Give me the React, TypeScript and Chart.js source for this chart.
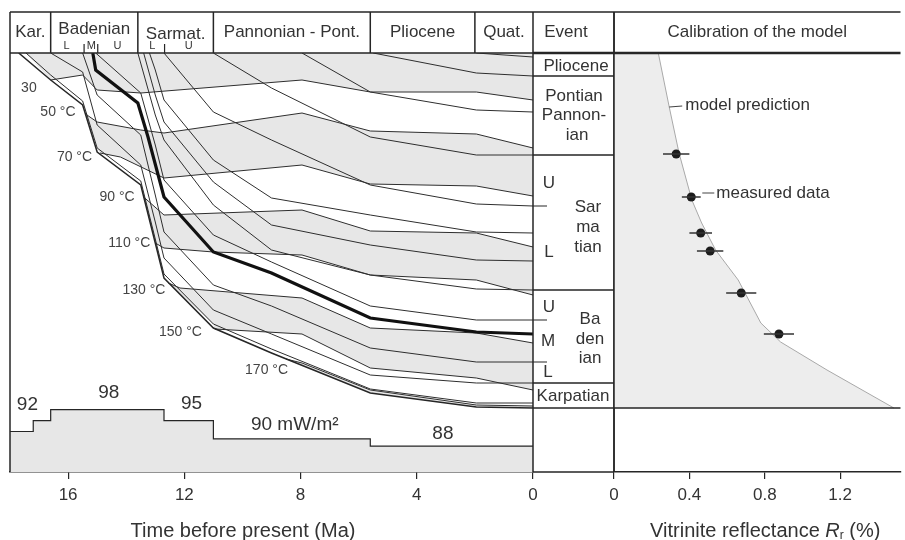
import React, { useEffect, useRef } from 'react';
import { Chart, registerables } from 'chart.js';

Chart.register(...registerables);

type Pt = [number, number]; // [time in Ma (or Rr in %), depth in m]

// ---------------- values ----------------
const TIME_MIN = 0;
const TIME_MAX = 18;
const TIME_STEP = 4;
const DEPTH_MAX = 4190;

// stratigraphic header (Ma)
const STAGE_NAMES = ['Kar.', 'Badenian', 'Sarmat.', 'Pannonian - Pont.', 'Pliocene', 'Quat.'];
const STAGE_BOUNDS = [18, 16.6, 13.6, 11.0, 5.6, 2.0, 0];
const SUBSTAGE_NAMES = ['L', 'M', 'U', 'L', 'U'];
const SUBSTAGE_TIMES = [16.05, 15.2, 14.3, 13.1, 11.85];
const SUBSTAGE_BOUNDS = [15.45, 14.98, 12.68];

// heat flow history (mW/m2)
const HEAT_FLOW_TIMES = [18, 17.2, 16.6, 12.7, 11.0, 5.6, 0];
const HEAT_FLOW_VALUES = [92, 95, 98, 95, 90, 88, 88];
const HEAT_FLOW_RANGE: [number, number] = [80.9, 195.7];
const HEAT_FLOW_LABELS = ['92', '98', '95', '90 mW/m\u00B2', '88'];
const HEAT_FLOW_LABEL_TIMES = [17.4, 14.6, 11.75, 8.2, 3.1];
const HEAT_FLOW_LABEL_VALUES = [92, 98, 95, 90, 88];

// burial history: horizons [time Ma, depth m]
const H_BASAL: Pt[] = [[17.7, 0], [16.6, 270], [15.5, 520], [15.0, 990], [13.5, 1320], [13.0, 1900], [12.7, 2250], [11.0, 2750], [9.0, 3000], [5.6, 3400], [1.95, 3540], [0, 3550]];
const H_BASAL_2: Pt[] = [[17.45, 0], [16.6, 220], [15.5, 480], [15.0, 950], [13.5, 1280], [13.0, 1860], [12.7, 2210], [11.0, 2710], [9.0, 2960], [5.6, 3360], [1.95, 3500], [0, 3500]];
const H_BADENIAN_BASE: Pt[] = [[16.6, 0], [15.5, 190], [15.0, 720], [13.5, 1120], [13.0, 1690], [12.7, 2050], [11.0, 2570], [9.0, 2810], [5.6, 3220], [1.95, 3300], [0, 3300]];
const H_BADENIAN_LM: Pt[] = [[15.5, 0], [15.0, 420], [13.5, 820], [13.0, 1420], [12.7, 1790], [11.0, 2320], [9.0, 2530], [5.6, 2950], [1.95, 3090], [0, 3090]];
const H_WELL: Pt[] = [[15.15, 0], [15.05, 170], [13.6, 500], [13.25, 840], [12.7, 1440], [11.0, 1990], [9.0, 2200], [5.6, 2650], [1.95, 2790], [0, 2810]];
const H_BADENIAN_MU: Pt[] = [[15.05, 0], [13.5, 400], [13.0, 920], [12.7, 1270], [11.0, 1820], [9.0, 2090], [5.6, 2530], [1.95, 2670], [0, 2670]];
const H_SARMATIAN_BASE: Pt[] = [[13.6, 0], [13.0, 620], [12.7, 870], [11.0, 1520], [9.0, 1970], [5.6, 2220], [1.95, 2360], [0, 2370]];
const H_SARMATIAN_2: Pt[] = [[13.4, 0], [13.0, 420], [12.7, 690], [11.0, 1290], [9.0, 1720], [5.6, 1920], [1.95, 2070], [0, 2080]];
const H_SARMATIAN_3: Pt[] = [[13.2, 0], [13.0, 170], [12.7, 470], [11.0, 1070], [9.0, 1450], [5.6, 1620], [1.95, 1790], [0, 1800]];
const H_SARMATIAN_LU: Pt[] = [[12.7, 0], [11.0, 590], [9.0, 870], [5.6, 1320], [1.95, 1510], [0, 1530]];
const H_PANNONIAN_BASE: Pt[] = [[11.0, 0], [9.0, 350], [5.6, 840], [1.95, 1020], [0, 1020]];
const H_PANNONIAN_2: Pt[] = [[7.95, 0], [5.6, 390], [1.95, 570], [0, 590]];
const H_PLIOCENE_BASE: Pt[] = [[5.5, 0], [1.95, 200], [0, 230]];
const H_QUATERNARY_BASE: Pt[] = [[1.95, 0], [0, 40]];

// isotherms [time Ma, depth m]
const ISO_30: Pt[] = [[16.6, 270], [15.5, 220], [15.0, 370], [13.5, 400], [7.95, 270], [5.6, 390], [1.95, 390], [0, 470]];
const ISO_50: Pt[] = [[15.4, 610], [15.0, 690], [13.5, 770], [12.7, 800], [7.95, 600], [5.6, 780], [1.95, 810], [0, 950]];
const ISO_70: Pt[] = [[14.9, 1000], [14.2, 1040], [12.7, 1250], [7.95, 1120], [5.6, 1310], [1.95, 1330], [0, 1430]];
const ISO_90: Pt[] = [[13.4, 1440], [12.7, 1620], [7.95, 1570], [5.6, 1780], [1.95, 1800], [0, 1940]];
const ISO_110: Pt[] = [[13.0, 1900], [12.7, 1950], [11.0, 1990], [7.95, 2020], [5.6, 2220], [1.95, 2270], [0, 2420]];
const ISO_130: Pt[] = [[12.55, 2300], [12.15, 2350], [7.95, 2450], [5.6, 2750], [1.95, 2800], [0, 2900]];
const ISO_150: Pt[] = [[10.95, 2760], [7.95, 2810], [5.6, 3150], [1.95, 3250], [0, 3370]];
const ISO_170: Pt[] = [[8.5, 3060], [7.95, 3100], [5.6, 3370], [1.95, 3520], [0, 3530]];
const ISOTHERM_NAMES = ['30', '50 \u00B0C', '70 \u00B0C', '90 \u00B0C', '110 \u00B0C', '130 \u00B0C', '150 \u00B0C', '170 \u00B0C'];

// event column (present-day depths, m)
const EVENT_BOUNDS = [230, 1020, 2370, 3300, 3550];
const EVENT_TICKS = [1530, 2670, 3090];
const EVENT_LABELS = ['Pliocene', 'Pontian', 'Pannon-', 'ian', 'U', 'Sar', 'ma', 'tian', 'L', 'U', 'Ba', 'den', 'ian', 'M', 'L', 'Karpatian'];
const EVENT_LABEL_DEPTHS = [130, 430, 620, 820, 1300, 1540, 1740, 1940, 1990, 2540, 2660, 2860, 3050, 2880, 3190, 3430];

// calibration: vitrinite reflectance (%)
const RR_MAX = 1.52;
const RR_STEP = 0.4;
const MODEL_RR = [0.235, 0.293, 0.345, 0.413, 0.465, 0.539, 0.659, 0.779, 0.884, 1.13, 1.485];
const MODEL_DEPTH = [0, 540, 1000, 1470, 1700, 1970, 2270, 2700, 2890, 3170, 3550];
const MEASURED_RR = [0.33, 0.41, 0.46, 0.51, 0.675, 0.875];
const MEASURED_DEPTH = [1010, 1440, 1800, 1980, 2400, 2810];
const MEASURED_ERR = [0.07, 0.05, 0.06, 0.07, 0.08, 0.08];

// ---------------- layout / style (not data) ----------------
const FONT = "'Liberation Sans', Arial, Helvetica, sans-serif";
const INK = '#262626';
const LINE = '#2e2e2e';
const TEXT = '#333333';
const BAND = '#e7e7e7';
const HEADER_TOP = 12;
const EVENT_WIDTH = 81;
const STAGE_DY = [0, -3, 1.5, 0, 0, 0];
const EVENT_LABEL_X = [43, 41, 41, 44, 16, 55, 55, 55, 16, 16, 57, 57, 57, 15, 15, 40];
const ISO_LABEL_OFFSETS: Pt[] = [[-14, 8], [-10, -2], [-8, 4], [-9, 0], [-5, 0], [-3, 7], [-13, 3], [2, 11]];
const HF_LABEL_DY = [-27, -17, -17, -14, -12];

Chart.defaults.font.family = FONT;

const HORIZONS = [H_BASAL_2, H_BADENIAN_BASE, H_BADENIAN_LM, H_BADENIAN_MU, H_SARMATIAN_BASE, H_SARMATIAN_2, H_SARMATIAN_3, H_SARMATIAN_LU, H_PANNONIAN_BASE, H_PANNONIAN_2, H_PLIOCENE_BASE, H_QUATERNARY_BASE];
const ISOTHERMS = [ISO_30, ISO_50, ISO_70, ISO_90, ISO_110, ISO_130, ISO_150, ISO_170];

const xy = (pts: Pt[]) => pts.map(([x, y]) => ({ x, y }));
const asc = (a: Pt, b: Pt) => a[0] - b[0];

function bandPolygon(upper: Pt[], lower: Pt[], edge: Pt[]): Pt[] {
  const tU = upper[0][0];
  const tL = lower[0][0];
  const side = edge.filter(([t]) => t > tL && t < tU).sort(asc);
  return [...upper, ...[...lower].reverse(), ...side];
}

function seg(ctx: CanvasRenderingContext2D, x1: number, y1: number, x2: number, y2: number) {
  ctx.moveTo(x1, y1);
  ctx.lineTo(x2, y2);
}

function label(ctx: CanvasRenderingContext2D, s: string, x: number, y: number, size: number, align: CanvasTextAlign = 'center', color = TEXT, style = 'normal') {
  ctx.font = `${style} ${size}px ${FONT}`;
  ctx.fillStyle = color;
  ctx.textAlign = align;
  ctx.textBaseline = 'middle';
  ctx.fillText(s, x, y);
}

const axisCommon = {
  grid: { display: true, drawOnChartArea: false, drawTicks: true, tickLength: 7, color: INK, lineWidth: 1.2 },
  border: { display: true, color: INK, width: 1.5 },
  afterFit: (s: any) => { s.height = 68; },
};

const leftDecor = {
  id: 'leftDecor',
  afterDraw(chart: any) {
    const { ctx, chartArea: a } = chart;
    const sx = chart.scales.x, sy = chart.scales.y, shf = chart.scales.yHF;
    const evL = a.right, evR = a.right + EVENT_WIDTH;
    ctx.save();
    ctx.strokeStyle = INK;
    ctx.lineWidth = 1.5;
    ctx.beginPath();
    seg(ctx, a.left, HEADER_TOP, evR, HEADER_TOP);
    seg(ctx, a.left, HEADER_TOP, a.left, a.bottom);
    seg(ctx, a.left, a.top, evL, a.top);
    seg(ctx, evL, HEADER_TOP, evL, a.bottom);
    seg(ctx, evR, HEADER_TOP, evR, a.bottom);
    seg(ctx, evL, a.bottom, evR, a.bottom);
    for (const t of STAGE_BOUNDS.slice(1, -1)) {
      const X = sx.getPixelForValue(t);
      seg(ctx, X, HEADER_TOP, X, a.top);
    }
    for (const d of EVENT_BOUNDS) {
      const Y = sy.getPixelForValue(d);
      seg(ctx, evL, Y, evR, Y);
    }
    ctx.stroke();
    ctx.lineWidth = 2.5;
    ctx.beginPath();
    seg(ctx, evL, a.top, evR, a.top);
    ctx.stroke();
    ctx.lineWidth = 1.2;
    ctx.beginPath();
    for (const t of SUBSTAGE_BOUNDS) {
      const X = sx.getPixelForValue(t);
      seg(ctx, X, a.top - 9, X, a.top);
    }
    for (const d of EVENT_TICKS) {
      const Y = sy.getPixelForValue(d);
      seg(ctx, evL, Y, evL + 14, Y);
    }
    ctx.stroke();

    const midY = (HEADER_TOP + a.top) / 2;
    STAGE_NAMES.forEach((name, i) => {
      const X = (sx.getPixelForValue(STAGE_BOUNDS[i]) + sx.getPixelForValue(STAGE_BOUNDS[i + 1])) / 2;
      label(ctx, name, X, midY + STAGE_DY[i], 17);
    });
    SUBSTAGE_NAMES.forEach((name, i) => {
      label(ctx, name, sx.getPixelForValue(SUBSTAGE_TIMES[i]), a.top - 7, 11);
    });
    label(ctx, 'Event', evL + 33, midY, 17);
    EVENT_LABELS.forEach((s, i) => {
      label(ctx, s, evL + EVENT_LABEL_X[i], sy.getPixelForValue(EVENT_LABEL_DEPTHS[i]), 17);
    });
    ISOTHERMS.forEach((iso, i) => {
      const [t, d] = iso[0];
      const [dx, dy] = ISO_LABEL_OFFSETS[i];
      label(ctx, ISOTHERM_NAMES[i], sx.getPixelForValue(t) + dx, sy.getPixelForValue(d) + dy, 14, 'right', '#444');
    });
    HEAT_FLOW_LABELS.forEach((s, i) => {
      label(ctx, s, sx.getPixelForValue(HEAT_FLOW_LABEL_TIMES[i]), shf.getPixelForValue(HEAT_FLOW_LABEL_VALUES[i]) + HF_LABEL_DY[i], 19);
    });
    label(ctx, 'Time before present (Ma)', a.left + 233, 531, 20);
    ctx.restore();
  },
};

const rightDecor = {
  id: 'rightDecor',
  afterDatasetsDraw(chart: any) {
    const { ctx } = chart;
    const sx = chart.scales.x, sy = chart.scales.y;
    ctx.save();
    ctx.strokeStyle = '#333';
    ctx.lineWidth = 1.6;
    ctx.beginPath();
    MEASURED_RR.forEach((r, i) => {
      const Y = sy.getPixelForValue(MEASURED_DEPTH[i]);
      seg(ctx, sx.getPixelForValue(r - MEASURED_ERR[i]), Y, sx.getPixelForValue(r + MEASURED_ERR[i]), Y);
    });
    ctx.stroke();
    ctx.restore();
  },
  afterDraw(chart: any) {
    const { ctx, chartArea: a } = chart;
    const sx = chart.scales.x, sy = chart.scales.y;
    ctx.save();
    ctx.strokeStyle = INK;
    ctx.lineWidth = 1.5;
    ctx.beginPath();
    seg(ctx, a.left, HEADER_TOP, a.right, HEADER_TOP);
    seg(ctx, a.left, HEADER_TOP, a.left, a.bottom);
    const baseY = sy.getPixelForValue(EVENT_BOUNDS[EVENT_BOUNDS.length - 1]);
    seg(ctx, a.left, baseY, a.right, baseY);
    ctx.stroke();
    ctx.lineWidth = 2.5;
    ctx.beginPath();
    seg(ctx, a.left, a.top, a.right, a.top);
    ctx.stroke();
    label(ctx, 'Calibration of the model', (a.left + a.right) / 2, (HEADER_TOP + a.top) / 2, 17);

    // annotations
    ctx.strokeStyle = '#444';
    ctx.lineWidth = 1.1;
    const mx = sx.getPixelForValue(MODEL_RR[1]);
    const my = sy.getPixelForValue(MODEL_DEPTH[1]);
    ctx.beginPath();
    seg(ctx, mx, my, mx + 13, my - 1);
    const px = sx.getPixelForValue(MEASURED_RR[1]);
    const py = sy.getPixelForValue(MEASURED_DEPTH[1]);
    seg(ctx, px + 11, py - 4, px + 23, py - 4);
    ctx.stroke();
    label(ctx, 'model prediction', mx + 16, my - 2, 17, 'left');
    label(ctx, 'measured data', px + 25, py - 4, 17, 'left');

    // axis title with italic R and subscript r
    const parts: [string, number, string, number][] = [
      ['Vitrinite reflectance ', 20, 'normal', 0],
      ['R', 20, 'italic', 0],
      ['r', 12, 'normal', 5],
      [' (%)', 20, 'normal', 0],
    ];
    let total = 0;
    for (const [s, size, style] of parts) {
      ctx.font = `${style} ${size}px ${FONT}`;
      total += ctx.measureText(s).width;
    }
    let x = (a.left + a.right) / 2 + 8 - total / 2;
    for (const [s, size, style, dy] of parts) {
      label(ctx, s, x, 531 + dy, size, 'left', TEXT, style);
      ctx.font = `${style} ${size}px ${FONT}`;
      x += ctx.measureText(s).width;
    }
    ctx.restore();
  },
};

function buildLeftConfig() {
  const surface: Pt[] = [[H_BASAL_2[0][0], 0], [0, 0]];
  const bands: Pt[][] = [
    bandPolygon(surface, ISO_30, H_BASAL_2),
    bandPolygon(ISO_50, ISO_70, H_BASAL_2),
    bandPolygon(ISO_90, ISO_110, H_BASAL_2),
    bandPolygon(ISO_130, ISO_150, H_BASAL_2),
    [...ISO_170, ...H_BASAL.filter(([t]) => t < ISO_170[0][0]).sort(asc)],
  ];
  const datasets: any[] = [
    ...bands.map((b) => ({ data: xy(b), fill: 'shape', backgroundColor: BAND, borderColor: 'rgba(0,0,0,0)', borderWidth: 0, order: 30 })),
    {
      data: HEAT_FLOW_TIMES.map((t, i) => ({ x: t, y: HEAT_FLOW_VALUES[i] })),
      yAxisID: 'yHF', stepped: true, fill: 'start', backgroundColor: BAND, borderColor: INK, borderWidth: 1.2, order: 20,
    },
    ...ISOTHERMS.map((iso) => ({ data: xy(iso), borderColor: LINE, borderWidth: 1, fill: false, order: 10 })),
    ...HORIZONS.map((h) => ({ data: xy(h), borderColor: LINE, borderWidth: 1, fill: false, order: 10 })),
    { data: xy(H_BASAL), borderColor: INK, borderWidth: 1.5, fill: false, order: 5 },
    { data: xy(H_WELL), borderColor: '#111', borderWidth: 3.2, fill: false, order: 1 },
  ];
  return {
    type: 'line',
    data: { datasets },
    options: {
      responsive: false,
      animation: false,
      events: [],
      layout: { padding: { left: 10, right: 87, top: 53, bottom: 0 } },
      elements: { point: { radius: 0, hitRadius: 0 }, line: { tension: 0 } },
      plugins: { legend: { display: false }, tooltip: { enabled: false } },
      scales: {
        x: {
          type: 'linear', reverse: true, min: TIME_MIN, max: TIME_MAX, position: 'bottom',
          ticks: { stepSize: TIME_STEP, includeBounds: false, font: { size: 17, family: FONT }, color: TEXT, padding: 6, maxRotation: 0 },
          title: { display: false },
          ...axisCommon,
        },
        y: { type: 'linear', reverse: true, min: 0, max: DEPTH_MAX, display: false },
        yHF: { type: 'linear', min: HEAT_FLOW_RANGE[0], max: HEAT_FLOW_RANGE[1], display: false },
      },
    },
    plugins: [leftDecor],
  };
}

function buildRightConfig() {
  const model = MODEL_RR.map((r, i) => ({ x: r, y: MODEL_DEPTH[i] }));
  const base = EVENT_BOUNDS[EVENT_BOUNDS.length - 1];
  const area = [{ x: 0, y: 0 }, ...model, { x: 0, y: base }];
  const datasets: any[] = [
    { data: area, fill: 'shape', backgroundColor: '#ededed', borderColor: 'rgba(0,0,0,0)', borderWidth: 0, order: 30 },
    { data: model, borderColor: '#a9a9a9', borderWidth: 1, fill: false, order: 10 },
    {
      data: MEASURED_RR.map((r, i) => ({ x: r, y: MEASURED_DEPTH[i] })),
      showLine: false, pointRadius: 4.5, pointBackgroundColor: '#1c1c1c', pointBorderWidth: 0, order: 1,
    },
  ];
  return {
    type: 'line',
    data: { datasets },
    options: {
      responsive: false,
      animation: false,
      events: [],
      layout: { padding: { left: 14, right: 0, top: 53, bottom: 0 } },
      elements: { point: { radius: 0, hitRadius: 0 }, line: { tension: 0 } },
      plugins: { legend: { display: false }, tooltip: { enabled: false } },
      scales: {
        x: {
          type: 'linear', min: 0, max: RR_MAX, position: 'bottom',
          ticks: { stepSize: RR_STEP, includeBounds: false, font: { size: 17, family: FONT }, color: TEXT, padding: 6, maxRotation: 0 },
          title: { display: false },
          ...axisCommon,
        },
        y: { type: 'linear', reverse: true, min: 0, max: DEPTH_MAX, display: false },
      },
    },
    plugins: [rightDecor],
  };
}

export default function App() {
  const leftRef = useRef<HTMLCanvasElement | null>(null);
  const rightRef = useRef<HTMLCanvasElement | null>(null);
  useEffect(() => {
    if (!leftRef.current || !rightRef.current) return;
    const left = new Chart(leftRef.current, buildLeftConfig() as any);
    const right = new Chart(rightRef.current, buildRightConfig() as any);
    return () => {
      left.destroy();
      right.destroy();
    };
  }, []);
  return (
    <div style={{ position: 'absolute', left: 0, top: 0, width: 905, height: 540, background: '#fff', overflow: 'hidden' }}>
      <canvas ref={leftRef} width={620} height={540} style={{ position: 'absolute', left: 0, top: 0, display: 'block' }} />
      <canvas ref={rightRef} width={305} height={540} style={{ position: 'absolute', left: 600, top: 0, display: 'block' }} />
    </div>
  );
}
